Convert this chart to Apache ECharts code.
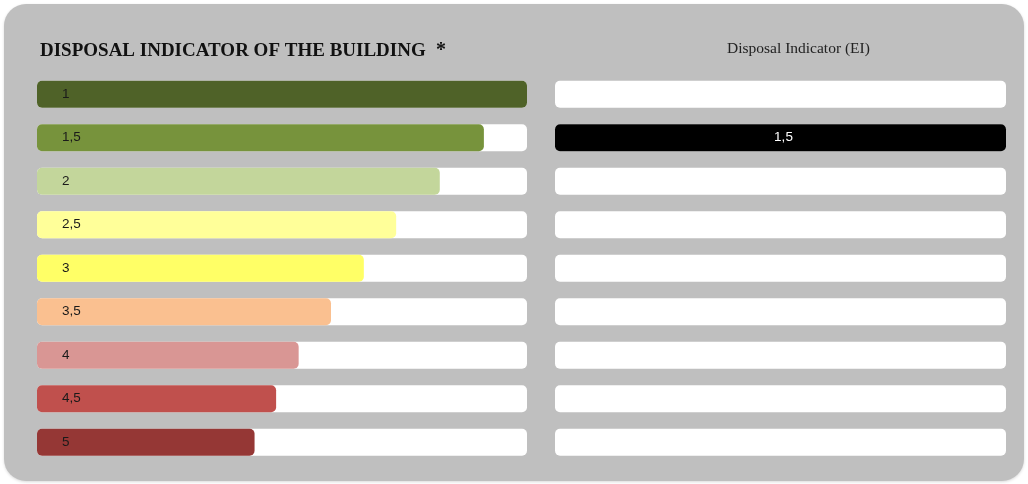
<!DOCTYPE html>
<html>
<head>
<meta charset="utf-8">
<script src="https://cdn.jsdelivr.net/npm/echarts@6/dist/echarts.min.js"></script>
<style>
  html, body { margin: 0; padding: 0; background: #ffffff; }
  #chart { width: 1028px; height: 484px; }
</style>
</head>
<body>
<div id="chart"></div>
<script>
// Disposal indicator classes (1 = best, 5 = worst)
const classes = [1, 1.5, 2, 2.5, 3, 3.5, 4, 4.5, 5];
const classLabels = ['1', '1,5', '2', '2,5', '3', '3,5', '4', '4,5', '5'];
// Length of each class bar, as a share of the full scale (%)
const classLengths = [100, 91.2, 82.2, 73.3, 66.7, 60, 53.4, 48.8, 44.4];
const classColors = ['#4f6228', '#77933c', '#c3d69b', '#ffff99', '#ffff66', '#fac090', '#d99694', '#c0504d', '#953735'];
// Indicator of the building
const buildingEI = 1.5;
const fullScale = 100;

const chart = echarts.init(document.getElementById('chart'), null, { renderer: 'canvas' });

const barW = 27;
const radius = 5;

const option = {
  animation: false,
  backgroundColor: '#ffffff',
  graphic: [
    {
      type: 'rect',
      z: -10,
      shape: { x: 4, y: 4, width: 1020, height: 477, r: 22 },
      style: { fill: '#bfbfbf', shadowBlur: 3, shadowColor: 'rgba(0,0,0,0.15)', shadowOffsetY: 1 }
    },
    {
      type: 'text',
      left: 40, top: 42,
      style: {
        text: 'DISPOSAL INDICATOR OF THE BUILDING',
        font: 'bold 19px "Liberation Serif", "Times New Roman", serif',
        fill: '#111111'
      }
    },
    {
      type: 'text',
      left: 436, top: 41,
      style: {
        text: '*',
        font: 'bold 20px "Liberation Serif", "Times New Roman", serif',
        fill: '#111111'
      }
    },
    {
      type: 'text',
      left: 727, top: 41,
      style: {
        text: 'Disposal Indicator (EI)',
        font: '15.5px "Liberation Serif", "Times New Roman", serif',
        fill: '#222222'
      }
    }
  ],
  grid: [
    { left: 37, width: 490, top: 72.5, height: 391.5 },
    { left: 555, width: 451, top: 72.5, height: 391.5 }
  ],
  xAxis: [
    { gridIndex: 0, type: 'value', min: 0, max: fullScale, show: false },
    { gridIndex: 1, type: 'value', min: 0, max: fullScale, show: false }
  ],
  yAxis: [
    { gridIndex: 0, type: 'category', data: classLabels, inverse: true, show: false },
    { gridIndex: 1, type: 'category', data: classLabels, inverse: true, show: false }
  ],
  series: [
    {
      name: 'track-left', type: 'bar', xAxisIndex: 0, yAxisIndex: 0,
      barWidth: barW, barGap: '-100%', silent: true,
      itemStyle: { color: '#ffffff', borderRadius: radius },
      data: classes.map(() => fullScale)
    },
    {
      name: 'classes', type: 'bar', xAxisIndex: 0, yAxisIndex: 0,
      barWidth: barW, barGap: '-100%',
      data: classLengths.map((v, i) => ({
        value: v,
        itemStyle: { color: classColors[i], borderRadius: radius }
      })),
      label: {
        show: true, position: 'insideLeft', distance: 0, offset: [25, 0],
        formatter: p => classLabels[p.dataIndex],
        fontFamily: '"Liberation Sans", Arial, sans-serif', fontSize: 13.5,
        color: '#1a1a1a'
      }
    },
    {
      name: 'track-right', type: 'bar', xAxisIndex: 1, yAxisIndex: 1,
      barWidth: barW, barGap: '-100%', silent: true,
      itemStyle: { color: '#ffffff', borderRadius: radius },
      data: classes.map(() => fullScale)
    },
    {
      name: 'EI', type: 'bar', xAxisIndex: 1, yAxisIndex: 1,
      barWidth: barW, barGap: '-100%',
      itemStyle: { color: '#000000', borderRadius: radius },
      data: classes.map(c => (c === buildingEI ? fullScale : null)),
      label: {
        show: true, position: 'inside', offset: [3, 0],
        formatter: p => classLabels[p.dataIndex],
        fontFamily: '"Liberation Sans", Arial, sans-serif', fontSize: 13.5,
        color: '#ffffff'
      }
    }
  ]
};

chart.setOption(option);
</script>
</body>
</html>
